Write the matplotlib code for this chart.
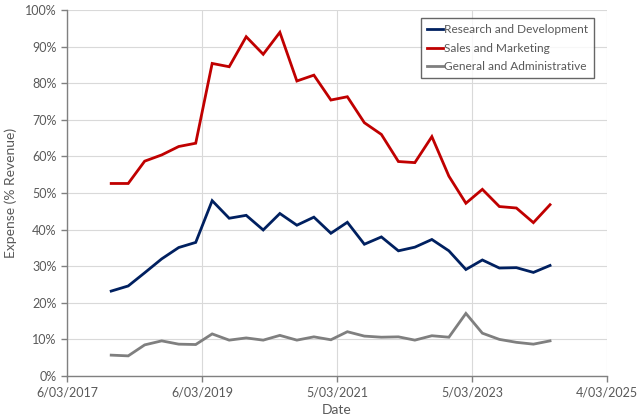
import matplotlib
matplotlib.use("Agg")
import matplotlib.pyplot as plt
import matplotlib.dates as mdates
from matplotlib.ticker import FixedLocator, PercentFormatter
import pandas as pd
import datetime as dt

dates = pd.date_range("2017-10-31", periods=27, freq="3ME")
rnd = [23.2, 24.6, 28.2, 32.0, 35.1, 36.5, 47.9, 43.1, 43.9, 39.9, 44.4, 41.2, 43.4, 39.0,
       42.0, 36.0, 38.0, 34.2, 35.2, 37.3, 34.2, 29.1, 31.7, 29.5, 29.6, 28.3, 30.2]
snm = [52.6, 52.6, 58.7, 60.4, 62.7, 63.6, 85.4, 84.5, 92.7, 87.9, 93.9, 80.6, 82.2, 75.4,
       76.3, 69.2, 66.0, 58.6, 58.3, 65.4, 54.6, 47.2, 51.0, 46.3, 45.9, 41.9, 46.8]
gna = [5.7, 5.5, 8.5, 9.6, 8.7, 8.6, 11.5, 9.8, 10.4, 9.8, 11.1, 9.8, 10.7, 9.9,
       12.1, 10.9, 10.6, 10.7, 9.8, 11.0, 10.6, 17.1, 11.7, 10.0, 9.2, 8.7, 9.6]
series_names = ["Research and Development", "Sales and Marketing", "General and Administrative"]
colors = ["#002060", "#C00000", "#7F7F7F"]
x_ticks = [dt.date(2017, 3, 6), dt.date(2019, 3, 6), dt.date(2021, 3, 5),
           dt.date(2023, 3, 5), dt.date(2025, 3, 4)]
x_labels = ["6/03/2017", "6/03/2019", "5/03/2021", "5/03/2023", "4/03/2025"]

plt.rcParams['font.family'] = ['Lato', 'DejaVu Sans']
txt = "#595959"

fig = plt.figure(figsize=(6.4, 4.18), dpi=100)
ax = fig.add_axes([67/640, 1-376/418, (607-67)/640, (376-10)/418])

for vals, name, c in zip([rnd, snm, gna], series_names, colors):
    ax.plot(dates, vals, color=c, lw=2.0, label=name, solid_joinstyle="miter")

ax.set_xlim(x_ticks[0], x_ticks[-1])
ax.set_ylim(0, 100)
ax.xaxis.set_major_locator(FixedLocator(mdates.date2num(x_ticks)))
ax.set_xticklabels(x_labels)
ax.set_yticks(range(0, 101, 10))
ax.yaxis.set_major_formatter(PercentFormatter(decimals=0))

ax.grid(True, color="#D9D9D9", lw=0.8)
ax.set_axisbelow(True)
for s in ["top", "right"]:
    ax.spines[s].set_visible(False)
for s in ["left", "bottom"]:
    ax.spines[s].set_color("#808080")
    ax.spines[s].set_linewidth(1.0)
ax.tick_params(axis="both", colors="#808080", labelcolor=txt, labelsize=9, length=4, width=1.0)

ax.set_xlabel("Date", color=txt, fontsize=10, labelpad=4)
ax.set_ylabel("Expense (% Revenue)", color=txt, fontsize=10, labelpad=6)

leg = ax.legend(loc="upper right", bbox_to_anchor=(594/640, 1-18/418), bbox_transform=fig.transFigure,
                frameon=True, fancybox=False, fontsize=8.6, handlelength=1.3, handletextpad=0.1,
                borderpad=0.5, labelspacing=0.65, borderaxespad=0)
leg.get_frame().set_edgecolor("#404040")
leg.get_frame().set_linewidth(1.0)
for t in leg.get_texts():
    t.set_color(txt)

fig.savefig("out.png", dpi=100)
